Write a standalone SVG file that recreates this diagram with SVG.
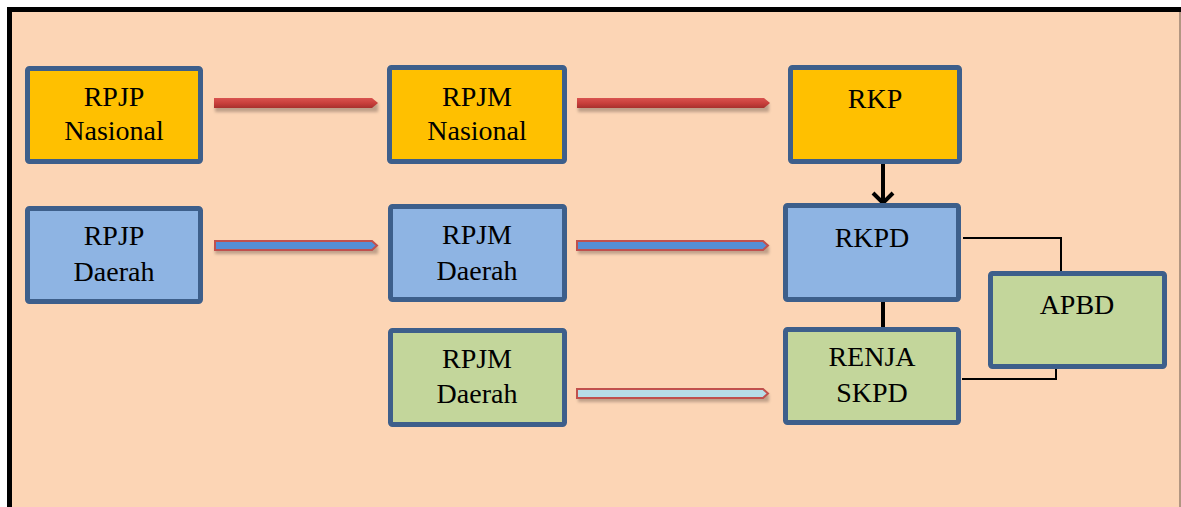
<svg xmlns="http://www.w3.org/2000/svg" width="1181" height="507" viewBox="0 0 1181 507">
  <style>
    .box { stroke: #3D5F8B; stroke-width: 5; }
    .gold { fill: #FFC000; }
    .blue { fill: #8EB4E3; }
    .green { fill: #C3D69B; }
    .lbl { font-family: "Liberation Serif", "DejaVu Serif", serif; font-size: 28px; fill: #000; text-anchor: middle; }
    .link { fill: none; stroke: #000; }
  </style>
  <defs>
    <linearGradient id="redBar" x1="0" y1="0" x2="0" y2="1">
      <stop offset="0" stop-color="#D9534F"/>
      <stop offset="0.5" stop-color="#C9403C"/>
      <stop offset="1" stop-color="#A8302D"/>
    </linearGradient>
    <filter id="soft" x="-10%" y="-100%" width="120%" height="300%">
      <feGaussianBlur stdDeviation="1.5"/>
    </filter>
  </defs>

  <!-- page -->
  <rect x="0" y="0" width="1181" height="507" fill="#FFFFFF"/>
  <rect x="9.5" y="9.5" width="1180" height="510" fill="#FCD5B5" stroke="#000" stroke-width="5"/>
  <line x1="1180" y1="12" x2="1180" y2="507" stroke="#9A8070" stroke-width="1.5"/>

  <!-- connectors -->
  <g id="connectors">
    <!-- bar shadows -->
    <g fill="#B89A84" filter="url(#soft)" opacity="0.9">
      <rect x="215" y="103" width="163" height="9"/>
      <rect x="578" y="103" width="191" height="9"/>
      <rect x="215" y="246" width="163" height="8"/>
      <rect x="578" y="246" width="191" height="8"/>
      <rect x="578" y="394" width="191" height="8"/>
    </g>
    <!-- national row -->
    <path d="M214 98 H372 L378 103 L372 108 H214 Z" fill="url(#redBar)"/>
    <path d="M577 98 H764 L770 103 L764 108 H577 Z" fill="url(#redBar)"/>
    <!-- regional row -->
    <path d="M215 241 H372 L377 245.5 L372 250 H215 Z" fill="#558ED5" stroke="#C0504D" stroke-width="2"/>
    <path d="M577 241 H763 L768 245.5 L763 250 H577 Z" fill="#558ED5" stroke="#C0504D" stroke-width="2"/>
    <!-- work plan row -->
    <path d="M577 389 H763 L768 393.5 L763 398 H577 Z" fill="#B7DDE8" stroke="#C0504D" stroke-width="2"/>

    <!-- RKP to RKPD -->
    <line class="link" x1="883" y1="164" x2="883" y2="202" stroke-width="4"/>
    <polyline class="link" points="873,193 883,203 893,193" stroke-width="4"/>
    <!-- RKPD to RENJA SKPD -->
    <line class="link" x1="883" y1="302" x2="883" y2="327" stroke-width="4"/>
    <!-- RKPD to APBD -->
    <polyline class="link" points="963,238 1061,238 1061,271" stroke-width="2"/>
    <!-- RENJA SKPD to APBD -->
    <polyline class="link" points="962,379 1056,379 1056,369" stroke-width="2"/>
  </g>

  <!-- nodes -->
  <g id="rpjp-nasional">
    <rect class="box gold" x="27.5" y="68.5" width="173" height="93" rx="2"/>
    <text class="lbl" x="114" y="106">RPJP</text>
    <text class="lbl" x="114" y="140">Nasional</text>
  </g>
  <g id="rpjm-nasional">
    <rect class="box gold" x="389.5" y="67.5" width="175" height="94" rx="2"/>
    <text class="lbl" x="477" y="106">RPJM</text>
    <text class="lbl" x="477" y="140">Nasional</text>
  </g>
  <g id="rkp">
    <rect class="box gold" x="790.5" y="67.5" width="169" height="94" rx="2"/>
    <text class="lbl" x="875" y="108">RKP</text>
  </g>
  <g id="rpjp-daerah">
    <rect class="box blue" x="27.5" y="208.5" width="173" height="93" rx="2"/>
    <text class="lbl" x="114" y="245">RPJP</text>
    <text class="lbl" x="114" y="281">Daerah</text>
  </g>
  <g id="rpjm-daerah">
    <rect class="box blue" x="390.5" y="206.5" width="174" height="93" rx="2"/>
    <text class="lbl" x="477" y="244">RPJM</text>
    <text class="lbl" x="477" y="280">Daerah</text>
  </g>
  <g id="rkpd">
    <rect class="box blue" x="785.5" y="205.5" width="173" height="94" rx="2"/>
    <text class="lbl" x="872" y="247">RKPD</text>
  </g>
  <g id="rpjm-daerah-2">
    <rect class="box green" x="390.5" y="330.5" width="174" height="94" rx="2"/>
    <text class="lbl" x="477" y="368">RPJM</text>
    <text class="lbl" x="477" y="403">Daerah</text>
  </g>
  <g id="renja-skpd">
    <rect class="box green" x="785.5" y="329.5" width="173" height="93" rx="2"/>
    <text class="lbl" x="872" y="366">RENJA</text>
    <text class="lbl" x="872" y="402">SKPD</text>
  </g>
  <g id="apbd">
    <rect class="box green" x="990.5" y="273.5" width="174" height="93" rx="2"/>
    <text class="lbl" x="1077" y="314">APBD</text>
  </g>
</svg>
